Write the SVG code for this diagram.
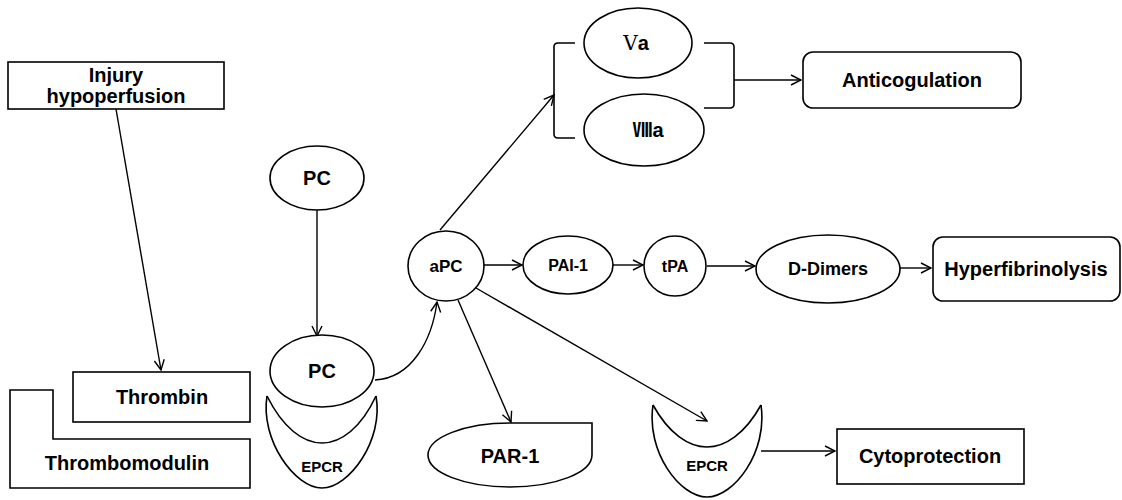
<svg xmlns="http://www.w3.org/2000/svg" width="1122" height="500" viewBox="0 0 1122 500">
<style>
.s{fill:none;stroke:#000;stroke-width:1.6}
.w{fill:#fff;stroke:#000;stroke-width:1.6}
.t{font-family:"Liberation Sans",Arial,sans-serif;font-weight:bold;fill:#000;text-anchor:middle}
.n{font-family:"DejaVu Serif","Noto Sans CJK SC",serif;font-weight:normal}
.k{font-family:"Noto Sans CJK SC","DejaVu Serif",sans-serif;font-weight:bold}
.a{fill:none;stroke:#000;stroke-width:1.4;marker-end:url(#ah)}
</style>
<defs>
<marker id="ah" viewBox="0 0 12 12" refX="11" refY="6" markerWidth="12" markerHeight="12" markerUnits="userSpaceOnUse" orient="auto">
<path d="M1,1 L11,6 L1,11" fill="none" stroke="#000" stroke-width="1.4"/>
</marker>
</defs>
<rect width="1122" height="500" fill="#fff"/>

<g id="connectors">
<line class="a" x1="116" y1="109" x2="161" y2="370"/>
<line class="a" x1="317" y1="210" x2="317" y2="336"/>
<path class="a" d="M375,380 C412,378 432,340 437,302"/>
<line class="a" x1="440" y1="230" x2="554" y2="95"/>
<line class="a" x1="484" y1="265" x2="522" y2="265"/>
<line class="a" x1="613" y1="265" x2="643" y2="265"/>
<line class="a" x1="707" y1="266" x2="755" y2="266"/>
<line class="a" x1="900" y1="268" x2="931" y2="268"/>
<line class="a" x1="734" y1="80" x2="801" y2="80"/>
<line class="a" x1="458" y1="300" x2="511" y2="422"/>
<line class="a" x1="476" y1="288" x2="707" y2="421"/>
<line class="a" x1="761" y1="451" x2="835" y2="451"/>
<path class="s" d="M575,43 H558 Q554,43 554,47 V134 Q554,138 558,138 H575"/>
<path class="s" d="M704,43 H730 Q734,43 734,47 V104 Q734,108 730,108 H704"/>
</g>

<g id="injury">
<rect class="w" x="8" y="62" width="216" height="47"/>
<text class="t" x="116" y="82" font-size="20">Injury</text>
<text class="t" x="116" y="103" font-size="20">hypoperfusion</text>
</g>

<g id="thrombomodulin">
<path class="w" d="M10,390 H53 V439 H250 V488 H10 Z"/>
<text class="t" x="127" y="470" font-size="20">Thrombomodulin</text>
</g>

<g id="thrombin">
<rect class="w" x="73" y="372" width="177" height="50"/>
<text class="t" x="162" y="404" font-size="20">Thrombin</text>
</g>

<g id="pc-top">
<ellipse class="w" cx="317" cy="178" rx="47" ry="32"/>
<text class="t" x="317" y="185" font-size="20">PC</text>
</g>

<g id="epcr-left">
<path class="s" d="M267,396 C260,440 295,488 322,488 C349,488 384,440 376,396"/>
<path class="s" d="M267,396 C283,428 303,443 322,443 C341,443 361,428 376,396"/>
<text class="t" x="322" y="472" font-size="15">EPCR</text>
</g>

<g id="pc-bottom">
<ellipse class="w" cx="322" cy="371" rx="52" ry="36"/>
<text class="t" x="322" y="378" font-size="20">PC</text>
</g>

<g id="apc">
<ellipse class="w" cx="446" cy="266" rx="38" ry="35"/>
<text class="t" x="446" y="272" font-size="17">aPC</text>
</g>

<g id="pai1">
<ellipse class="w" cx="568" cy="265" rx="45" ry="29"/>
<text class="t" x="568" y="271" font-size="16">PAI-1</text>
</g>

<g id="tpa">
<ellipse class="w" cx="675" cy="266" rx="31" ry="30"/>
<text class="t" x="675" y="272" font-size="16">tPA</text>
</g>

<g id="ddimers">
<ellipse class="w" cx="828" cy="269" rx="72" ry="34"/>
<text class="t" x="828" y="275" font-size="18">D-Dimers</text>
</g>

<g id="hyperfibrinolysis">
<rect class="w" x="933" y="237" width="187" height="64" rx="10"/>
<text class="t" x="1026" y="276" font-size="20">Hyperfibrinolysis</text>
</g>

<g id="va">
<ellipse class="w" cx="638" cy="43" rx="54" ry="35"/>
<text class="t" x="636" y="50" font-size="20"><tspan class="n">Ⅴ</tspan>a</text>
</g>

<g id="viiia">
<ellipse class="w" cx="644" cy="130" rx="60" ry="36"/>
<text class="t" x="648" y="137" font-size="20"><tspan class="k">Ⅷ</tspan>a</text>
</g>

<g id="anticogulation">
<rect class="w" x="803" y="52" width="218" height="56" rx="10"/>
<text class="t" x="912" y="87" font-size="20">Anticogulation</text>
</g>

<g id="par1">
<path class="w" d="M510,423 H592 V455 A82,32 0 0 1 510,487 A82,32 0 0 1 428,455 A82,32 0 0 1 510,423 Z"/>
<text class="t" x="510" y="463" font-size="20">PAR-1</text>
</g>

<g id="epcr-right">
<path class="s" d="M653,405 C646,452 680,497 707,497 C734,497 768,452 761,405"/>
<path class="s" d="M653,405 C669,434 689,447 707,447 C725,447 745,434 761,405"/>
<text class="t" x="707" y="471" font-size="15">EPCR</text>
</g>

<g id="cytoprotection">
<rect class="w" x="837" y="429" width="187" height="55"/>
<text class="t" x="930" y="463" font-size="20">Cytoprotection</text>
</g>
</svg>
